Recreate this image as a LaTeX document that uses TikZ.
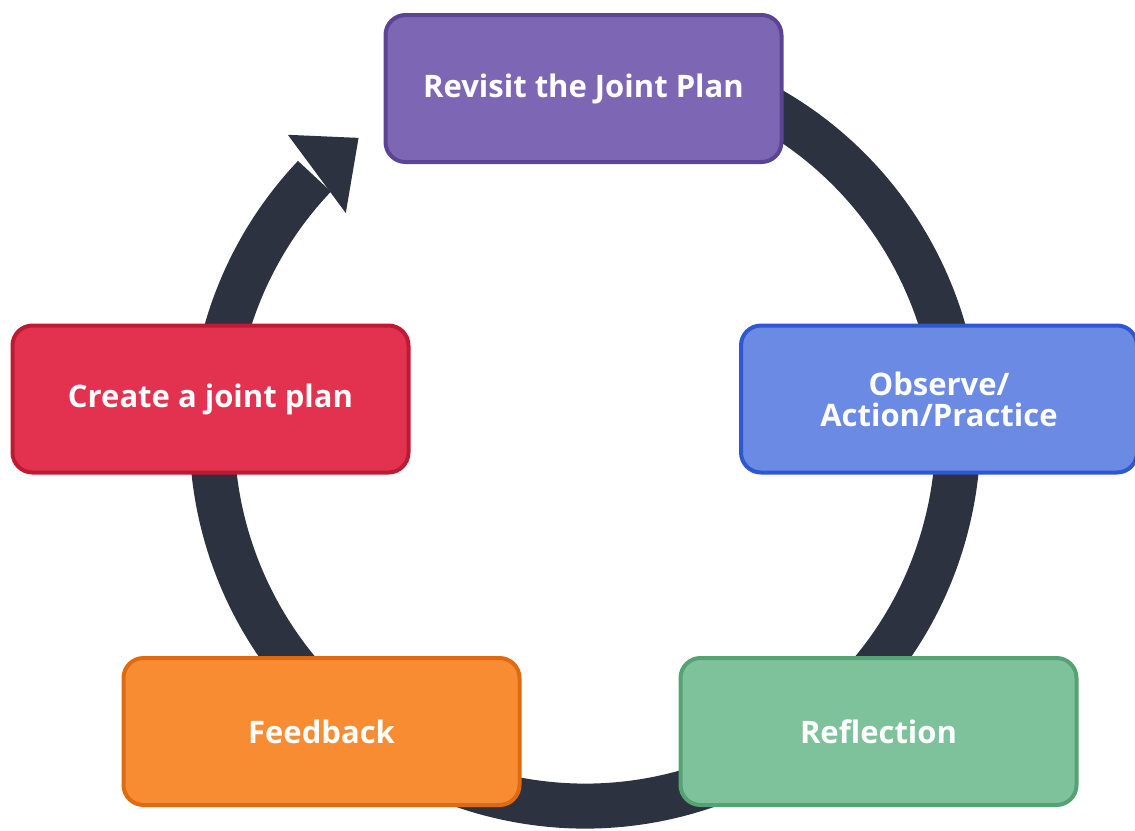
\documentclass[tikz,border=0pt]{standalone}
\usepackage{fontspec}
\setmainfont{Open Sans}
\usetikzlibrary{calc}
\definecolor{ringc}{HTML}{2D3240}
\definecolor{purpf}{HTML}{7D66B3}
\definecolor{purpd}{HTML}{5C4495}
\definecolor{bluef}{HTML}{6A8AE3}
\definecolor{blued}{HTML}{2E58D2}
\definecolor{redf}{HTML}{E3324F}
\definecolor{redd}{HTML}{BE1A33}
\definecolor{orf}{HTML}{F78C33}
\definecolor{ord}{HTML}{E06A10}
\definecolor{grf}{HTML}{7DC29B}
\definecolor{grd}{HTML}{55A273}
\tikzset{
  stage/.style={rectangle, rounded corners=20pt, line width=4pt,
    minimum width=396pt, minimum height=147pt, inner sep=0pt,
    text=white, align=center,
    font=\fontsize{31}{31}\selectfont\bfseries},
}
\begin{document}
\begin{tikzpicture}[x=1pt,y=1pt]
\useasboundingbox (0,-830) rectangle (1135,0);
\coordinate (c) at (585,-433);
% ring
\draw[ringc, line width=45pt] ($(c)+(75:373pt)$) arc[start angle=75, end angle=-223.5, radius=373pt];
% arrow head
\coordinate (hb1) at ($(c)+(134.9:421pt)$);
\coordinate (hb2) at ($(c)+(137.4:325pt)$);
\coordinate (tip) at ($(c)+(127.5:372pt)$);
\fill[ringc] (hb1) -- (tip) -- (hb2) -- cycle;
% stages
\node[stage, fill=purpf, draw=purpd] (revisit) at (583.5,-88.5) {Revisit the Joint Plan};
\node[stage, fill=bluef, draw=blued] (observe) at (939,-399) {Observe/\\Action/Practice};
\node[stage, fill=redf, draw=redd] (create) at (210.5,-399) {Create a joint plan};
\node[stage, fill=orf, draw=ord] (feedback) at (321.5,-731.5) {Feedback};
\node[stage, fill=grf, draw=grd] (reflection) at (878.5,-731.5) {Reflection};
\end{tikzpicture}
\end{document}
